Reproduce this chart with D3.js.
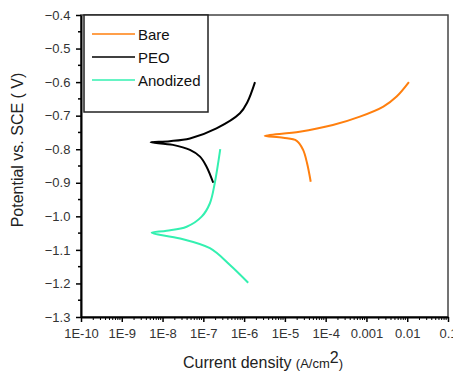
<!DOCTYPE html>
<html>
<head>
<meta charset="utf-8">
<script src="https://cdn.jsdelivr.net/npm/d3@7"></script>
<style>
  body { margin: 0; background: #fff; }
  text { font-family: "Liberation Sans", Arial, sans-serif; }
</style>
</head>
<body>
<svg id="chart" width="453" height="376"></svg>
<script>
const width = 453, height = 376;
const margin = { left: 81, top: 15, right: 5, bottom: 59 };

// Tafel curves: [current density (A/cm2), potential (V)]
const bareData = [
  [1.1e-2, -0.60], [5.5e-3, -0.643], [2.6e-3, -0.673], [6.9e-4, -0.703],
  [1.5e-4, -0.728], [2.3e-5, -0.748], [3.2e-6, -0.760],
  [9.1e-6, -0.766], [1.95e-5, -0.775], [2.8e-5, -0.802], [3.5e-5, -0.842], [4.3e-5, -0.897]
];
const peoData = [
  [1.85e-6, -0.60], [1.2e-6, -0.660], [7.9e-7, -0.693], [2.1e-7, -0.738], [4.7e-8, -0.768],
  [1.5e-8, -0.776], [5.1e-9, -0.779],
  [1.8e-8, -0.787], [4.7e-8, -0.802], [8.3e-8, -0.822], [1.2e-7, -0.852], [1.75e-7, -0.90]
];
const anodizedData = [
  [2.6e-7, -0.80], [1.9e-7, -0.902], [1.45e-7, -0.961], [9.1e-8, -1.001],
  [3.9e-8, -1.031], [1.26e-8, -1.043], [5.4e-9, -1.049],
  [2.7e-8, -1.066], [1.45e-7, -1.095], [4.5e-7, -1.145], [1.26e-6, -1.198]
];
const seriesNames = ["Bare", "PEO", "Anodized"];
const seriesColors = ["#ff7f0e", "#000000", "#33f0b0"];
const yTicks = [-0.4, -0.5, -0.6, -0.7, -0.8, -0.9, -1.0, -1.1, -1.2, -1.3];
const xTickLabels = ["1E-10", "1E-9", "1E-8", "1E-7", "1E-6", "1E-5", "1E-4", "0.001", "0.01", "0.1"];

const svg = d3.select("#chart");

const x = d3.scaleLog().domain([1e-10, 0.1]).range([margin.left, width - margin.right]);
const y = d3.scaleLinear().domain([-1.3, -0.4]).range([height - margin.bottom, margin.top]);

// frame (top and right)
svg.append("rect")
  .attr("x", margin.left).attr("y", margin.top)
  .attr("width", width - margin.right - margin.left)
  .attr("height", height - margin.bottom - margin.top)
  .attr("fill", "none").attr("stroke", "#444").attr("stroke-width", 1.5);

// minor ticks
const minorX = [];
for (let e = -10; e < -1; e++) for (let k = 2; k <= 9; k++) minorX.push(k * Math.pow(10, e));
svg.append("g").selectAll("line").data(minorX).enter().append("line")
  .attr("x1", d => x(d)).attr("x2", d => x(d))
  .attr("y1", height - margin.bottom).attr("y2", height - margin.bottom + 3)
  .attr("stroke", "#000").attr("stroke-width", 1);

const minorY = d3.range(-1.25, -0.4, 0.1);
svg.append("g").selectAll("line").data(minorY).enter().append("line")
  .attr("x1", margin.left - 3).attr("x2", margin.left)
  .attr("y1", d => y(d)).attr("y2", d => y(d))
  .attr("stroke", "#000").attr("stroke-width", 1.5);

const xMajor = xTickLabels.map((t, i) => Math.pow(10, i - 10));
const xAxis = svg.append("g")
  .attr("transform", `translate(0,${height - margin.bottom})`)
  .call(d3.axisBottom(x).tickValues(xMajor).tickSize(5).tickSizeOuter(0)
    .tickFormat((d, i) => xTickLabels[i]));
xAxis.select(".domain").attr("stroke-width", 2);
xAxis.selectAll(".tick line").attr("stroke-width", 1.5);
xAxis.selectAll(".tick text").attr("font-size", "13px").attr("fill", "#333").attr("dy", "1em");

const yAxis = svg.append("g")
  .attr("transform", `translate(${margin.left},0)`)
  .call(d3.axisLeft(y).tickValues(yTicks).tickSize(5).tickSizeOuter(0).tickFormat(d3.format(".1f")));
yAxis.select(".domain").attr("stroke-width", 2);
yAxis.selectAll(".tick line").attr("stroke-width", 1.5);
yAxis.selectAll(".tick text").attr("font-size", "13px").attr("fill", "#333").attr("dx", "-0.2em");

// curves
const line = d3.line().x(d => x(d[0])).y(d => y(d[1])).curve(d3.curveCatmullRom.alpha(0.5));
[bareData, peoData, anodizedData].forEach((data, i) => {
  svg.append("path")
    .datum(data)
    .attr("fill", "none")
    .attr("stroke", seriesColors[i])
    .attr("stroke-width", 2)
    .attr("d", line);
});

// legend
const legend = svg.append("g").attr("transform", `translate(84, ${margin.top})`);
legend.append("rect")
  .attr("width", 124).attr("height", 97)
  .attr("fill", "#fff").attr("stroke", "#222").attr("stroke-width", 1.5);
seriesNames.forEach((name, i) => {
  legend.append("line")
    .attr("x1", 8).attr("x2", 51)
    .attr("y1", 19 + i * 23).attr("y2", 19 + i * 23)
    .attr("stroke", seriesColors[i]).attr("stroke-width", 1.5);
  legend.append("text")
    .attr("x", 54).attr("y", 24.5 + i * 23)
    .attr("font-size", "15px").attr("fill", "#111")
    .text(name);
});

// axis titles
svg.append("text")
  .attr("transform", `translate(23, 150) rotate(-90)`)
  .attr("text-anchor", "middle")
  .attr("font-size", "16px").attr("fill", "#222")
  .text("Potential vs. SCE ( V)");

const xt = svg.append("text")
  .attr("x", 263).attr("y", 368)
  .attr("text-anchor", "middle")
  .attr("font-size", "16px").attr("fill", "#222");
xt.append("tspan").text("Current density ");
xt.append("tspan").attr("font-size", "13px").text("(A/cm");
xt.append("tspan").attr("font-size", "16px").attr("dy", "-5").text("2");
xt.append("tspan").attr("font-size", "13px").attr("dy", "5").text(")");
</script>
</body>
</html>
